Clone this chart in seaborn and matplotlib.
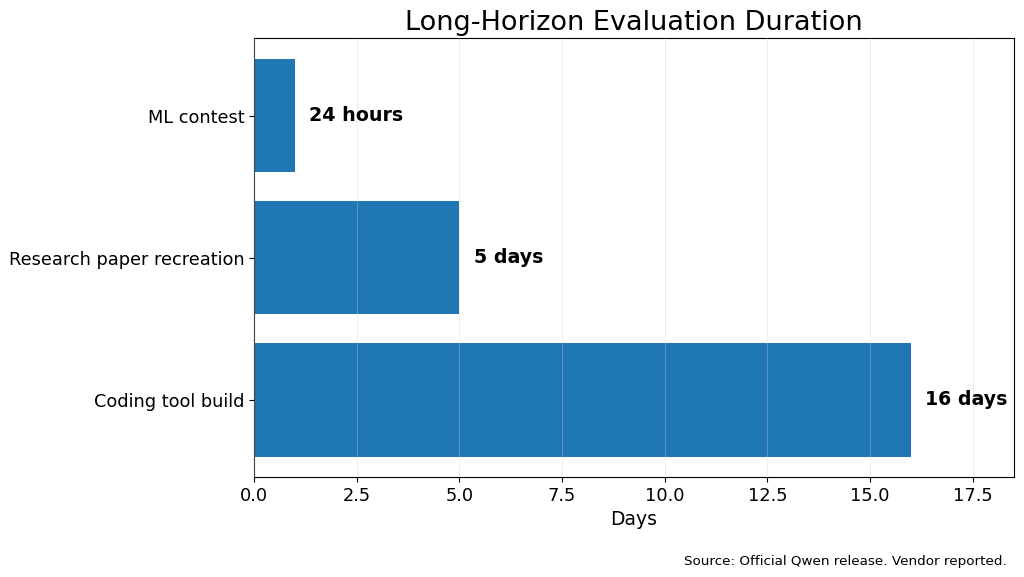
import matplotlib
matplotlib.use("Agg")
import matplotlib.pyplot as plt
import seaborn as sns
import pandas as pd

tasks = ["ML contest", "Research paper recreation", "Coding tool build"]
days = [1, 5, 16]
labels = ["24 hours", "5 days", "16 days"]

sns.set_style("ticks")
plt.rcParams["font.family"] = ["DejaVu Sans"]
plt.rcParams.update({"text.color": "black", "axes.labelcolor": "black",
                     "xtick.color": "black", "ytick.color": "black",
                     "axes.edgecolor": "black"})

df = pd.DataFrame({"task": tasks, "days": days})

fig, ax = plt.subplots(figsize=(10.24, 5.77), dpi=100)
sns.barplot(data=df, y="task", x="days", orient="h", color="#1f77b4",
            saturation=1, width=0.8, linewidth=0, ax=ax)

for i, (v, lab) in enumerate(zip(days, labels)):
    ax.text(v + 0.35, i, lab, va="center", ha="left",
            fontsize=13.7, fontweight="bold")

ax.set_xlim(0, 18.5)
ax.set_ylim(2.545, -0.545)
ax.set_axisbelow(False)
ax.grid(axis="x", color="#cccccc", alpha=0.35, lw=0.8)
ax.set_title("Long-Horizon Evaluation Duration", fontsize=19.5)
ax.set_xlabel("Days", fontsize=13.5)
ax.set_ylabel("")
ax.tick_params(labelsize=12.8)
for s in ax.spines.values():
    s.set_visible(True)
    s.set_linewidth(0.8)

fig.text(0.983, 0.015, "Source: Official Qwen release. Vendor reported.",
         ha="right", va="bottom", fontsize=9.7)

fig.subplots_adjust(left=0.248, right=0.99, top=0.934, bottom=0.173)
fig.savefig("out.png", dpi=100)
